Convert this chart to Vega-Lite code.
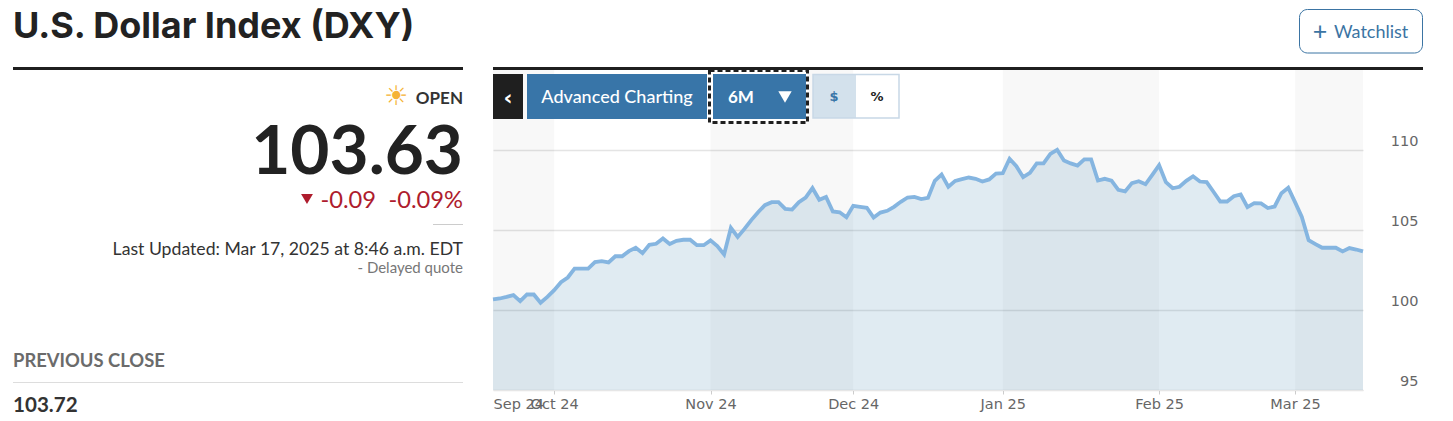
{"$schema":"https://vega.github.io/schema/vega-lite/v6.json","width":870,"height":320,"autosize":"none","padding":{"left":493,"top":70,"right":90,"bottom":31},"background":"#ffffff","config":{"view":{"stroke":null},"font":"Lato"},
"datasets":{"dxy":[
{"date":"2024-09-18","value":100.66},{"date":"2024-09-19","value":100.72},{"date":"2024-09-20","value":100.82},{"date":"2024-09-23","value":100.93},{"date":"2024-09-24","value":100.55},{"date":"2024-09-25","value":100.97},{"date":"2024-09-26","value":100.97},{"date":"2024-09-27","value":100.45},{"date":"2024-09-30","value":100.82},
{"date":"2024-10-01","value":101.24},{"date":"2024-10-02","value":101.74},{"date":"2024-10-03","value":102.03},{"date":"2024-10-04","value":102.59},{"date":"2024-10-07","value":102.59},{"date":"2024-10-08","value":102.59},{"date":"2024-10-09","value":102.99},{"date":"2024-10-10","value":103.05},{"date":"2024-10-11","value":102.97},{"date":"2024-10-14","value":103.36},{"date":"2024-10-15","value":103.36},{"date":"2024-10-16","value":103.68},{"date":"2024-10-17","value":103.89},{"date":"2024-10-18","value":103.55},{"date":"2024-10-21","value":104.07},{"date":"2024-10-22","value":104.14},{"date":"2024-10-23","value":104.47},{"date":"2024-10-24","value":104.12},{"date":"2024-10-25","value":104.32},{"date":"2024-10-28","value":104.39},{"date":"2024-10-29","value":104.39},{"date":"2024-10-30","value":104.05},{"date":"2024-10-31","value":104.05},
{"date":"2024-11-01","value":104.35},{"date":"2024-11-04","value":103.99},{"date":"2024-11-05","value":103.47},{"date":"2024-11-06","value":105.14},{"date":"2024-11-07","value":104.57},{"date":"2024-11-08","value":105.07},{"date":"2024-11-11","value":105.62},{"date":"2024-11-12","value":106.11},{"date":"2024-11-13","value":106.55},{"date":"2024-11-14","value":106.74},{"date":"2024-11-15","value":106.74},{"date":"2024-11-18","value":106.32},{"date":"2024-11-19","value":106.28},{"date":"2024-11-20","value":106.74},{"date":"2024-11-21","value":107.03},{"date":"2024-11-22","value":107.62},{"date":"2024-11-25","value":106.89},{"date":"2024-11-26","value":107.07},{"date":"2024-11-27","value":106.16},{"date":"2024-11-28","value":106.11},{"date":"2024-11-29","value":105.8},
{"date":"2024-12-02","value":106.51},{"date":"2024-12-03","value":106.45},{"date":"2024-12-04","value":106.39},{"date":"2024-12-05","value":105.78},{"date":"2024-12-06","value":106.09},{"date":"2024-12-09","value":106.2},{"date":"2024-12-10","value":106.45},{"date":"2024-12-11","value":106.76},{"date":"2024-12-12","value":107.03},{"date":"2024-12-13","value":107.07},{"date":"2024-12-16","value":106.93},{"date":"2024-12-17","value":107.01},{"date":"2024-12-18","value":108.07},{"date":"2024-12-19","value":108.47},{"date":"2024-12-20","value":107.7},{"date":"2024-12-23","value":108.07},{"date":"2024-12-24","value":108.18},{"date":"2024-12-25","value":108.28},{"date":"2024-12-26","value":108.2},{"date":"2024-12-27","value":108.03},{"date":"2024-12-30","value":108.16},{"date":"2024-12-31","value":108.53},
{"date":"2025-01-01","value":108.55},{"date":"2025-01-02","value":109.45},{"date":"2025-01-03","value":108.99},{"date":"2025-01-06","value":108.3},{"date":"2025-01-07","value":108.57},{"date":"2025-01-08","value":109.16},{"date":"2025-01-09","value":109.16},{"date":"2025-01-10","value":109.76},{"date":"2025-01-13","value":110.01},{"date":"2025-01-14","value":109.34},{"date":"2025-01-15","value":109.16},{"date":"2025-01-16","value":109.03},{"date":"2025-01-17","value":109.41},{"date":"2025-01-20","value":109.41},{"date":"2025-01-21","value":108.09},{"date":"2025-01-22","value":108.2},{"date":"2025-01-23","value":108.09},{"date":"2025-01-24","value":107.51},{"date":"2025-01-27","value":107.41},{"date":"2025-01-28","value":107.93},{"date":"2025-01-29","value":108.05},{"date":"2025-01-30","value":107.86},{"date":"2025-01-31","value":108.45},
{"date":"2025-02-03","value":109.05},{"date":"2025-02-04","value":107.99},{"date":"2025-02-05","value":107.61},{"date":"2025-02-06","value":107.7},{"date":"2025-02-07","value":108.07},{"date":"2025-02-10","value":108.36},{"date":"2025-02-11","value":108.03},{"date":"2025-02-12","value":107.99},{"date":"2025-02-13","value":107.39},{"date":"2025-02-14","value":106.78},{"date":"2025-02-17","value":106.78},{"date":"2025-02-18","value":107.11},{"date":"2025-02-19","value":107.22},{"date":"2025-02-20","value":106.43},{"date":"2025-02-21","value":106.68},{"date":"2025-02-24","value":106.66},{"date":"2025-02-25","value":106.37},{"date":"2025-02-26","value":106.47},{"date":"2025-02-27","value":107.3},{"date":"2025-02-28","value":107.64},
{"date":"2025-03-03","value":106.74},{"date":"2025-03-04","value":105.82},{"date":"2025-03-05","value":104.36},{"date":"2025-03-06","value":104.12},{"date":"2025-03-07","value":103.89},{"date":"2025-03-10","value":103.89},{"date":"2025-03-11","value":103.89},{"date":"2025-03-12","value":103.66},{"date":"2025-03-13","value":103.87},{"date":"2025-03-14","value":103.78},{"date":"2025-03-17","value":103.66}],
"bands":[{"start":"2024-09-18","end":"2024-10-01"},{"start":"2024-11-01","end":"2024-12-02"},{"start":"2025-01-01","end":"2025-02-03"},{"start":"2025-03-03","end":"2025-03-17"}]},
"layer":[
{"data":{"name":"bands"},"mark":{"type":"rect","color":"#000000","opacity":0.028},"encoding":{"x":{"field":"start","type":"ordinal","scale":{"type":"point","padding":0},"title":null,"axis":{"values":["2024-09-18","2024-10-01","2024-11-01","2024-12-02","2025-01-01","2025-02-03","2025-03-03"],"labelExpr":"timeFormat(toDate(datum.value + 'T12:00:00'), '%b %y')","labelAngle":0,"labelOverlap":false,"labelBound":false,"labelAlign":{"condition":{"test":"datum.value === '2024-09-18'","value":"left"},"value":"center"},"tickOpacity":{"condition":{"test":"datum.value === '2024-09-18'","value":0},"value":1},"tickSize":4,"tickColor":"#cccccc","domainColor":"#e6e6e6","labelColor":"#666666","labelFont":"DejaVu Sans","labelFontSize":14.5,"labelPadding":3,"grid":false}},"x2":{"field":"end"}}},
{"data":{"name":"dxy"},"mark":{"type":"area","color":"#307aa8","opacity":0.15},"encoding":{"x":{"field":"date","type":"ordinal"},"y":{"field":"value","type":"quantitative","scale":{"domain":[95,115],"zero":false,"nice":false},"title":null,"axis":{"orient":"right","values":[95,100,105,110],"grid":true,"gridColor":"#e4e4e4","gridWidth":1.5,"ticks":false,"domain":false,"labelAlign":"right","labelPadding":55,"labelOffset":-9,"labelColor":"#666666","labelFont":"DejaVu Sans","labelFontSize":14.5}},"y2":{"datum":95}}},
{"data":{"name":"dxy"},"mark":{"type":"line","color":"#85b5e0","strokeWidth":3.8},"encoding":{"x":{"field":"date","type":"ordinal"},"y":{"field":"value","type":"quantitative"}}},
{"data":{"values":[{"label":"U.S. Dollar Index (DXY)"}]},"mark":{"type":"text","align":"left","baseline":"alphabetic","font":"Inter","fontWeight":700,"fontSize":36,"color":"#222222"},"encoding":{"x":{"value":-480},"y":{"value":-32},"text":{"field":"label"}}},
{"data":{"values":[{"k":"a"}]},"mark":{"type":"rule","color":"#1f1f1f","strokeWidth":3},"encoding":{"x":{"value":-480},"x2":{"value":-30},"y":{"value":-1.5}}},
{"data":{"values":[{"k":"b"}]},"mark":{"type":"rule","color":"#1f1f1f","strokeWidth":3},"encoding":{"x":{"value":0},"x2":{"value":930},"y":{"value":-1.5}}},
{"data":{"values":[{"k":"c"}]},"mark":{"type":"rect","fill":"#ffffff","stroke":"#3b74a3","strokeWidth":1,"cornerRadius":8},"encoding":{"x":{"value":806.5},"x2":{"value":929.5},"y":{"value":-60.5},"y2":{"value":-17}}},
{"data":{"values":[{"label":"+"}]},"mark":{"type":"text","align":"center","baseline":"alphabetic","fontSize":25,"color":"#3b74a3"},"encoding":{"x":{"value":827},"y":{"value":-30},"text":{"field":"label"}}},
{"data":{"values":[{"label":"Watchlist"}]},"mark":{"type":"text","align":"left","baseline":"alphabetic","fontSize":18,"color":"#3b74a3"},"encoding":{"x":{"value":841},"y":{"value":-32},"text":{"field":"label"}}},
{"data":{"values":[{"label":"☀"}]},"mark":{"type":"text","align":"center","baseline":"middle","font":"DejaVu Sans","fontSize":27,"color":"#f5b335"},"encoding":{"x":{"value":-97},"y":{"value":27},"text":{"field":"label"}}},
{"data":{"values":[{"label":"OPEN"}]},"mark":{"type":"text","align":"right","baseline":"alphabetic","fontSize":17,"fontWeight":700,"color":"#333333"},"encoding":{"x":{"value":-30},"y":{"value":34},"text":{"field":"label"}}},
{"data":{"values":[{"label":"103.63"}]},"mark":{"type":"text","align":"right","baseline":"alphabetic","fontSize":67.5,"fontWeight":700,"color":"#222222"},"encoding":{"x":{"value":-30},"y":{"value":104},"text":{"field":"label"}}},
{"data":{"values":[{"k":"d"}]},"mark":{"type":"point","shape":"triangle-down","filled":true,"size":140,"color":"#ae1c2d","opacity":1},"encoding":{"x":{"value":-186},"y":{"value":129}}},
{"data":{"values":[{"label":"-0.09"}]},"mark":{"type":"text","align":"right","baseline":"alphabetic","fontSize":23.7,"color":"#ae1c2d"},"encoding":{"x":{"value":-117},"y":{"value":138},"text":{"field":"label"}}},
{"data":{"values":[{"label":"-0.09%"}]},"mark":{"type":"text","align":"right","baseline":"alphabetic","fontSize":23.7,"color":"#ae1c2d"},"encoding":{"x":{"value":-30},"y":{"value":138},"text":{"field":"label"}}},
{"data":{"values":[{"k":"e"}]},"mark":{"type":"rule","color":"#cccccc","strokeWidth":1},"encoding":{"x":{"value":-60},"x2":{"value":-30},"y":{"value":154.5}}},
{"data":{"values":[{"label":"Last Updated: Mar 17, 2025 at 8:46 a.m. EDT"}]},"mark":{"type":"text","align":"right","baseline":"alphabetic","fontSize":17.65,"color":"#333333"},"encoding":{"x":{"value":-30},"y":{"value":185},"text":{"field":"label"}}},
{"data":{"values":[{"label":"-  Delayed quote"}]},"mark":{"type":"text","align":"right","baseline":"alphabetic","fontSize":15,"color":"#777777"},"encoding":{"x":{"value":-30},"y":{"value":203},"text":{"field":"label"}}},
{"data":{"values":[{"label":"PREVIOUS CLOSE"}]},"mark":{"type":"text","align":"left","baseline":"alphabetic","fontSize":18.4,"fontWeight":700,"color":"#6b6b6b"},"encoding":{"x":{"value":-480},"y":{"value":297},"text":{"field":"label"}}},
{"data":{"values":[{"k":"f"}]},"mark":{"type":"rule","color":"#dddddd","strokeWidth":1},"encoding":{"x":{"value":-480},"x2":{"value":-30},"y":{"value":312.5}}},
{"data":{"values":[{"label":"103.72"}]},"mark":{"type":"text","align":"left","baseline":"alphabetic","fontSize":20.6,"fontWeight":700,"color":"#333333"},"encoding":{"x":{"value":-480},"y":{"value":342},"text":{"field":"label"}}},
{"data":{"values":[{"k":"g"}]},"mark":{"type":"rect","fill":"#1f1f1f"},"encoding":{"x":{"value":0},"x2":{"value":30},"y":{"value":4},"y2":{"value":49}}},
{"data":{"values":[{"label":"‹"}]},"mark":{"type":"text","align":"center","baseline":"alphabetic","font":"DejaVu Sans","fontSize":22,"fontWeight":700,"color":"#ffffff"},"encoding":{"x":{"value":15},"y":{"value":35},"text":{"field":"label"}}},
{"data":{"values":[{"k":"h"}]},"mark":{"type":"rect","fill":"#3875a8"},"encoding":{"x":{"value":34},"x2":{"value":214},"y":{"value":4},"y2":{"value":49}}},
{"data":{"values":[{"label":"Advanced Charting"}]},"mark":{"type":"text","align":"center","baseline":"alphabetic","fontSize":18,"fontWeight":500,"color":"#ffffff"},"encoding":{"x":{"value":124},"y":{"value":33},"text":{"field":"label"}}},
{"data":{"values":[{"k":"i"}]},"mark":{"type":"rect","fill":"#ffffff","stroke":"#1f1f1f","strokeWidth":3,"strokeDash":[5,3]},"encoding":{"x":{"value":216.5},"x2":{"value":314.5},"y":{"value":0.5},"y2":{"value":52.5}}},
{"data":{"values":[{"k":"j"}]},"mark":{"type":"rect","fill":"#3875a8"},"encoding":{"x":{"value":220},"x2":{"value":313},"y":{"value":4},"y2":{"value":49}}},
{"data":{"values":[{"label":"6M"}]},"mark":{"type":"text","align":"left","baseline":"alphabetic","fontSize":17,"fontWeight":700,"color":"#ffffff"},"encoding":{"x":{"value":235},"y":{"value":33},"text":{"field":"label"}}},
{"data":{"values":[{"k":"k"}]},"mark":{"type":"point","shape":"triangle-down","filled":true,"size":180,"color":"#ffffff","opacity":1},"encoding":{"x":{"value":292},"y":{"value":27}}},
{"data":{"values":[{"k":"m"}]},"mark":{"type":"rect","fill":"#d3e1ec"},"encoding":{"x":{"value":320},"x2":{"value":363},"y":{"value":4.5},"y2":{"value":48}}},
{"data":{"values":[{"k":"l"}]},"mark":{"type":"rect","fillOpacity":0,"fill":"#ffffff","stroke":"#c8d8e6","strokeWidth":1.5},"encoding":{"x":{"value":320},"x2":{"value":406},"y":{"value":4.5},"y2":{"value":48}}},
{"data":{"values":[{"label":"$"}]},"mark":{"type":"text","align":"center","baseline":"alphabetic","font":"DejaVu Sans","fontSize":13,"fontWeight":700,"color":"#3875a8"},"encoding":{"x":{"value":341},"y":{"value":31},"text":{"field":"label"}}},
{"data":{"values":[{"label":"%"}]},"mark":{"type":"text","align":"center","baseline":"alphabetic","font":"DejaVu Sans","fontSize":13,"fontWeight":700,"color":"#222222"},"encoding":{"x":{"value":384},"y":{"value":31},"text":{"field":"label"}}}
]}
